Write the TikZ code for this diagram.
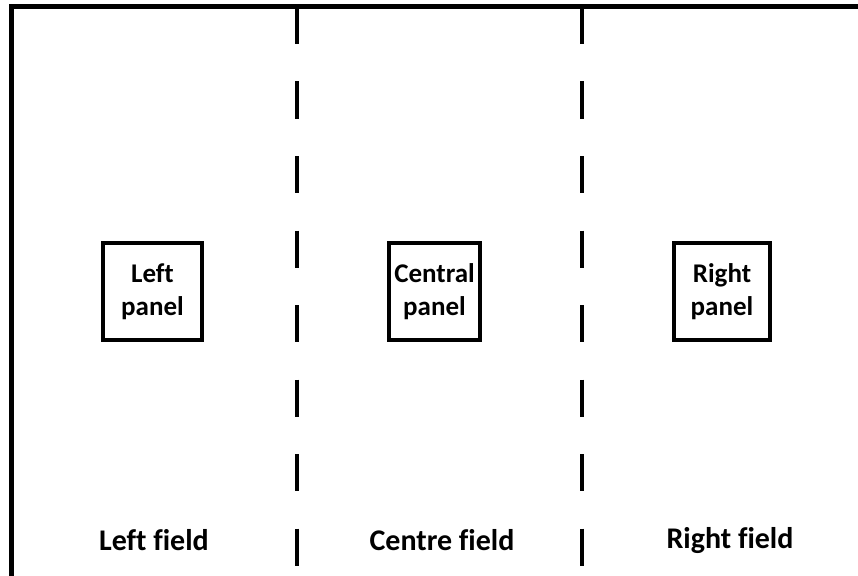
\documentclass[tikz,border=0pt]{standalone}
\usepackage{fontspec}
\setmainfont{Carlito}[Ligatures=NoCommon]

\tikzset{
    panelbox/.style={draw, line width=4.5pt, minimum width=95pt, minimum height=97pt,
        align=center, inner sep=2pt, font=\fontsize{27}{33}\selectfont\bfseries},
    fieldlabel/.style={anchor=base, font=\fontsize{30}{32}\selectfont\bfseries},
    divider/.style={line width=4.5pt, dash pattern=on 37pt off 37.5pt}
}

\begin{document}
\begin{tikzpicture}[x=1pt, y=-1pt]

        % (x, y): x to the right, y downwards, in pixels of the reference
        \clip (0, 0) rectangle (858, 575);
        \useasboundingbox (0, 0) rectangle (858, 575);

        % open frame: left side and top only
        \draw[line width=5pt] (11, 580) -- (11, 6.8) -- (870, 6.8);

        % dashed borders between the fields
        \draw[divider] (297, 7) -- (297, 580);
        \draw[divider] (582, 7) -- (582, 580);

        % panels
        \node[panelbox, minimum width=99pt] (leftpanel) at (152.5, 291.5) {Left\\panel};
        \node[panelbox, minimum width=91pt] (centralpanel) at (434.5, 291.5) {Central\\panel};
        \node[panelbox, minimum width=96pt] (rightpanel) at (722, 291.5) {Right\\panel};

        % field names
        \node[fieldlabel] (leftfield) at (154, 550.5) {Left field};
        \node[fieldlabel] (centrefield) at (442, 550.5) {Centre field};
        \node[fieldlabel] (rightfield) at (730, 548) {Right field};

    \end{tikzpicture}
\end{document}
